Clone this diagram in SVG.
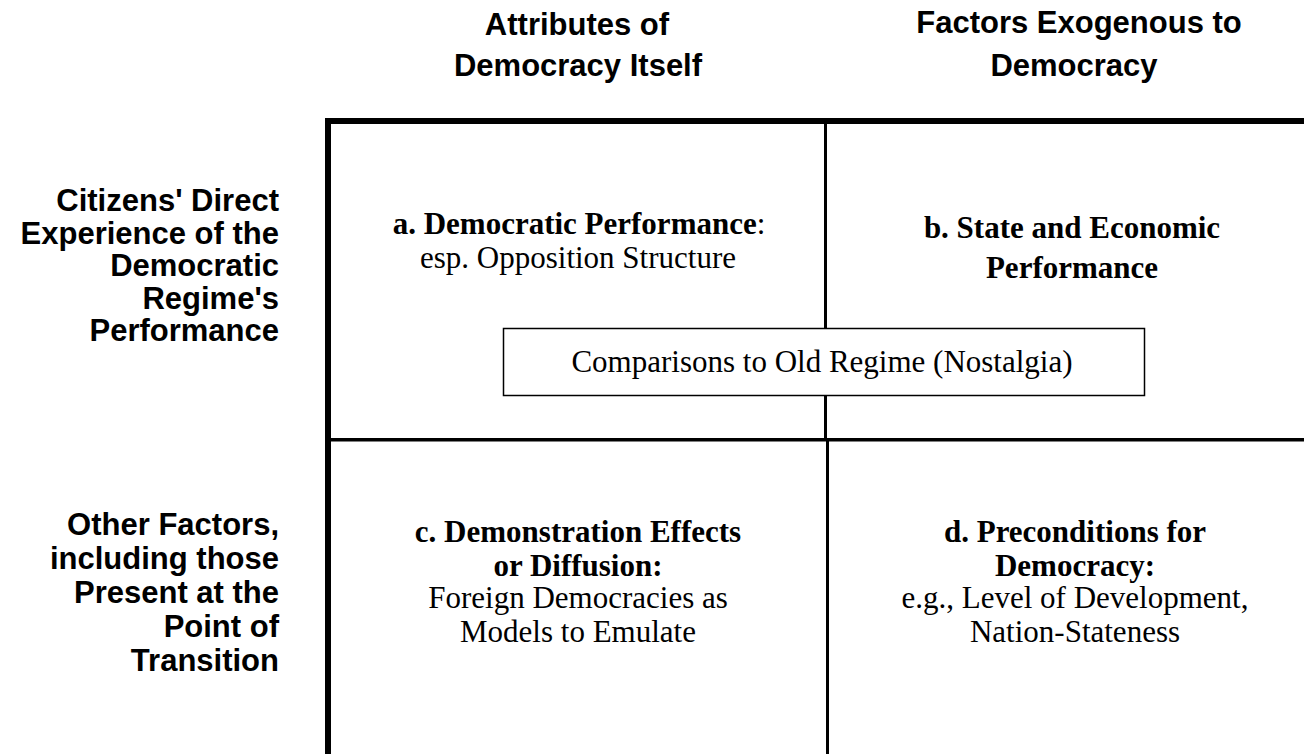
<svg xmlns="http://www.w3.org/2000/svg" width="1304" height="754" viewBox="0 0 1304 754">
<style>
.hd{font-family:"Liberation Sans",Arial,sans-serif;font-weight:bold;font-size:31px;fill:#000}
.cell{font-family:"Liberation Serif","Times New Roman",serif;font-size:31px;fill:#000}
.b{font-weight:bold}
.mid{text-anchor:middle}
.end{text-anchor:end}
</style>
<rect width="1304" height="754" fill="#fff"/>
<g id="connectors">
<rect x="325" y="118" width="979" height="6" fill="#000"/>
<rect x="325" y="118" width="6" height="636" fill="#000"/>
<rect x="824" y="124" width="3" height="316" fill="#000"/>
<rect x="826" y="440" width="3" height="314" fill="#000"/>
<rect x="331" y="438" width="973" height="3.5" fill="#000"/>
</g>
<g id="col-header-1">
<text class="hd mid" x="577" y="35">Attributes of</text>
<text class="hd mid" x="578" y="76">Democracy Itself</text>
</g>
<g id="col-header-2">
<text class="hd mid" x="1079" y="33">Factors Exogenous to</text>
<text class="hd mid" x="1074" y="76">Democracy</text>
</g>
<g id="row-header-1">
<text class="hd end" x="279" y="211">Citizens' Direct</text>
<text class="hd end" x="279" y="244">Experience of the</text>
<text class="hd end" x="279" y="276">Democratic</text>
<text class="hd end" x="279" y="309">Regime's</text>
<text class="hd end" x="279" y="341">Performance</text>
</g>
<g id="row-header-2">
<text class="hd end" x="279" y="535">Other Factors,</text>
<text class="hd end" x="279" y="569">including those</text>
<text class="hd end" x="279" y="603">Present at the</text>
<text class="hd end" x="279" y="637">Point of</text>
<text class="hd end" x="279" y="671">Transition</text>
</g>
<g id="cell-a">
<text class="cell mid" x="579" y="234"><tspan class="b">a. Democratic Performance</tspan>:</text>
<text class="cell mid" x="578" y="268">esp. Opposition Structure</text>
</g>
<g id="cell-b">
<text class="cell mid b" x="1072" y="238">b. State and Economic</text>
<text class="cell mid b" x="1072" y="278">Performance</text>
</g>
<g id="cell-c">
<text class="cell mid b" x="578" y="542">c. Demonstration Effects</text>
<text class="cell mid b" x="578" y="576">or Diffusion:</text>
<text class="cell mid" x="578" y="608">Foreign Democracies as</text>
<text class="cell mid" x="578" y="642">Models to Emulate</text>
</g>
<g id="cell-d">
<text class="cell mid b" x="1075" y="542">d. Preconditions for</text>
<text class="cell mid b" x="1075" y="576">Democracy:</text>
<text class="cell mid" x="1075" y="608">e.g., Level of Development,</text>
<text class="cell mid" x="1075" y="642">Nation-Stateness</text>
</g>
<g id="nostalgia-box">
<rect x="503.5" y="328.5" width="641" height="67" fill="#fff" stroke="#000" stroke-width="1.5"/>
<text class="cell mid" x="822" y="372">Comparisons to Old Regime (Nostalgia)</text>
</g>
</svg>
